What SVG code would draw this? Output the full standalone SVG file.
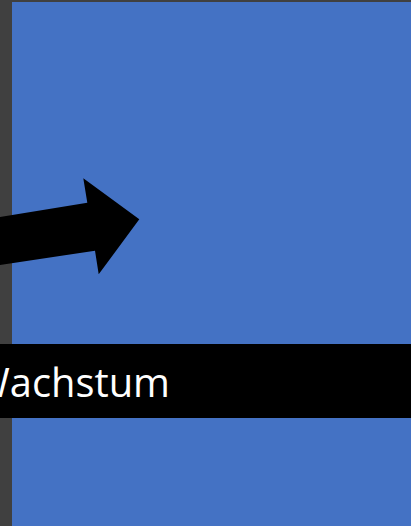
<svg xmlns="http://www.w3.org/2000/svg" width="411" height="526" viewBox="0 0 411 526">
<style>
.lbl{font-family:"Open Sans","Liberation Sans",sans-serif;font-size:40px;fill:#ffffff}
</style>
<rect x="0" y="0" width="411" height="526" fill="#404040"/>
<g id="panel"><rect x="12" y="2" width="399" height="524" fill="#4472C4"/></g>
<g id="connectors">
<polygon points="0,217 87.3,202.7 83.3,178.3 139.3,219.3 98.7,274.3 95,250.7 0,265" fill="#000000"/>
</g>
<g id="banner">
<rect x="0" y="344" width="411" height="74" fill="#000000"/>
<text class="lbl" x="-27" y="397" textLength="197" lengthAdjust="spacingAndGlyphs">Wachstum</text>
</g>
</svg>
